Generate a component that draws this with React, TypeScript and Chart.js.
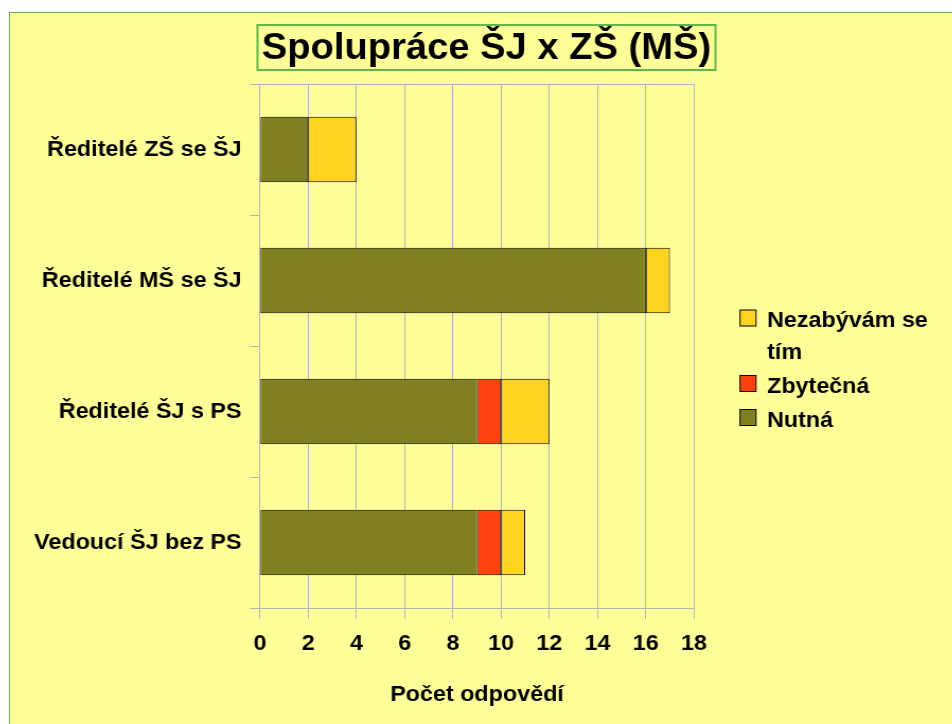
import { useEffect, useRef } from "react";
import { Chart, registerables } from "chart.js";

Chart.register(...registerables);

// ---- data ----
const categories = ["Ředitelé ZŠ se ŠJ", "Ředitelé MŠ se ŠJ", "Ředitelé ŠJ s PS", "Vedoucí ŠJ bez PS"];
const nutna = [2, 16, 9, 9];
const zbytecna = [0, 0, 1, 1];
const nezabyvam = [2, 1, 2, 1];
const seriesNames = ["Nutná", "Zbytečná", "Nezabývám se tím"];
const seriesColors = ["#808020", "#FF420E", "#FFD320"];
const xMin = 0;
const xMax = 18;
const xStep = 2;
const chartTitle = "Spolupráce ŠJ x ZŠ (MŠ)";
const xAxisTitle = "Počet odpovědí";

// ---- layout ----
const SX = 1.06; // horizontal stretch of the original picture
const W = 889;
const H = 711;
const FAMILY = "'Liberation Sans', Arial, sans-serif";
const GRID = "#B3B3B3";
const GREEN = "#62B548";

const framePlugin = {
  id: "frameTop",
  beforeDatasetsDraw(chart: any) {
    const { ctx, chartArea } = chart;
    ctx.save();
    ctx.strokeStyle = GRID;
    ctx.lineWidth = 1;
    ctx.beginPath();
    ctx.moveTo(chartArea.left, chartArea.top + 0.5);
    ctx.lineTo(chartArea.right, chartArea.top + 0.5);
    ctx.stroke();
    ctx.restore();
  },
};

const titlePlugin = {
  id: "boxedTitle",
  afterDraw(chart: any) {
    const { ctx } = chart;
    const size = 36;
    const cx = 449.5;
    const baseline = 46;
    ctx.save();
    ctx.font = `bold ${size}px ${FAMILY}`;
    ctx.textAlign = "center";
    ctx.textBaseline = "alphabetic";
    ctx.fillStyle = "#000";
    ctx.fillText(chartTitle, cx, baseline);
    const w = ctx.measureText(chartTitle).width;
    ctx.strokeStyle = GREEN;
    ctx.lineWidth = 2;
    ctx.strokeRect(cx - w / 2 - 4, 12, w + 8, 45);
    ctx.restore();
  },
};

const legendPlugin = {
  id: "sideLegend",
  afterDraw(chart: any) {
    const { ctx } = chart;
    const ds = chart.data.datasets.slice().reverse();
    const sqX = 688.7;
    const sqW = 15.1;
    const sqH = 16;
    const textX = 714.2;
    const maxW = 160;
    const lineH = 31.5;
    const itemGap = 2.5;
    let baseline = 314;
    ctx.save();
    ctx.font = `bold 22px ${FAMILY}`;
    ctx.textBaseline = "alphabetic";
    ctx.textAlign = "left";
    ds.forEach((d: any) => {
      const words = String(d.label).split(" ");
      const lines: string[] = [];
      let cur = "";
      words.forEach((wd) => {
        const t = cur ? cur + " " + wd : wd;
        if (ctx.measureText(t).width > maxW && cur) {
          lines.push(cur);
          cur = wd;
        } else cur = t;
      });
      if (cur) lines.push(cur);
      ctx.fillStyle = d.backgroundColor;
      ctx.fillRect(sqX, baseline - 17, sqW, sqH);
      ctx.strokeStyle = "#000";
      ctx.lineWidth = 1;
      ctx.strokeRect(sqX, baseline - 17, sqW, sqH);
      ctx.fillStyle = "#000";
      lines.forEach((ln, i) => {
        ctx.fillText(ln, textX, baseline + i * lineH);
      });
      baseline += lines.length * lineH + itemGap;
    });
    ctx.restore();
  },
};

export default function App() {
  const ref = useRef<HTMLCanvasElement>(null);

  useEffect(() => {
    if (!ref.current) return;
    const values = [nutna, zbytecna, nezabyvam];
    const chart = new Chart(ref.current, {
      type: "bar",
      data: {
        labels: categories,
        datasets: values.map((v, i) => ({
          label: seriesNames[i],
          data: v,
          backgroundColor: seriesColors[i],
          borderColor: "#000000",
          borderWidth: 1,
          borderSkipped: false,
          categoryPercentage: 0.5,
          barPercentage: 1,
        })),
      },
      options: {
        indexAxis: "y",
        animation: false,
        responsive: false,
        devicePixelRatio: 1,
        layout: { padding: { left: 0, top: 71, bottom: 0, right: W - 645.3 } },
        plugins: {
          legend: { display: false },
          tooltip: { enabled: false },
          title: { display: false },
        },
        scales: {
          x: {
            stacked: true,
            min: xMin,
            max: xMax,
            ticks: {
              stepSize: xStep,
              color: "#000",
              font: { family: FAMILY, size: 22, weight: "bold" },
              padding: 11.8,
            },
            grid: { color: GRID, tickLength: 11, lineWidth: 1 },
            border: { color: GRID },
            title: {
              display: true,
              text: xAxisTitle,
              color: "#000",
              font: { family: FAMILY, size: 22, weight: "bold" },
              padding: { top: 0, bottom: 16 },
            },
            afterFit: (s: any) => {
              s.height = 116;
            },
          },
          y: {
            stacked: true,
            grid: { offset: true, drawOnChartArea: false, drawTicks: true, tickLength: 9.4, color: GRID },
            border: { color: GRID },
            ticks: {
              color: "#000",
              font: { family: FAMILY, size: 22, weight: "bold" },
              padding: 8,
            },
            afterFit: (s: any) => {
              s.width = 235.8;
            },
          },
        },
      } as any,
      plugins: [framePlugin, titlePlugin, legendPlugin],
    });
    return () => chart.destroy();
  }, []);

  return (
    <div
      style={{
        position: "absolute",
        left: 9,
        top: 12,
        width: 943,
        height: 712,
        boxSizing: "border-box",
        borderLeft: `1px solid ${GREEN}`,
        borderTop: `1px solid ${GREEN}`,
        background: "#FFFF99",
        overflow: "hidden",
      }}
    >
      <canvas
        ref={ref}
        width={W}
        height={H}
        style={{
          display: "block",
          width: W + "px",
          height: H + "px",
          transform: `scaleX(${SX})`,
          transformOrigin: "0 0",
        }}
      />
    </div>
  );
}
